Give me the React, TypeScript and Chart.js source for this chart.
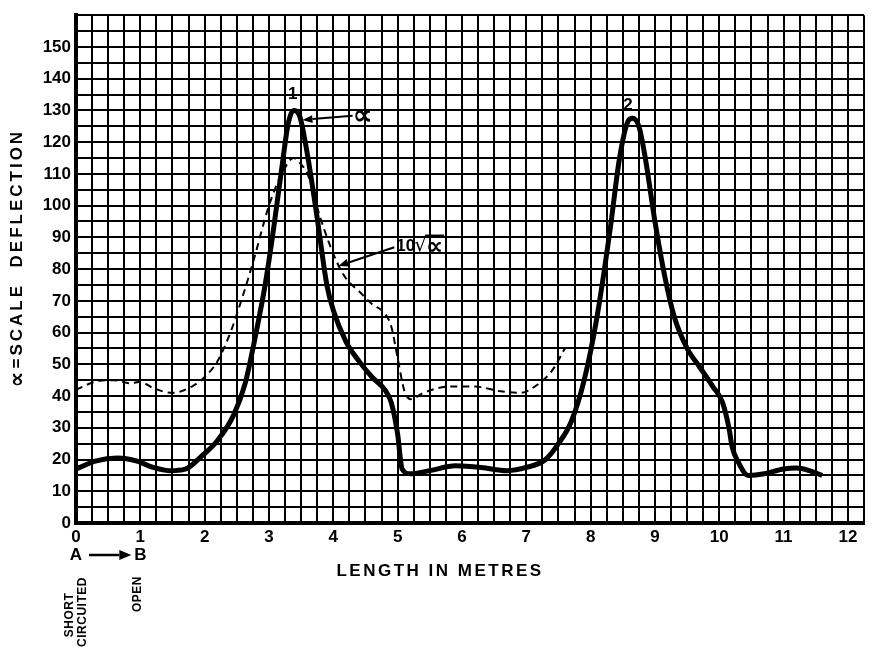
import React, { useEffect, useRef } from "react";
import { Chart, registerables } from "chart.js";

Chart.register(...registerables);

// ∝ (solid, thick) – scale deflection vs length in metres
const SOLID_X = [0, 0.3, 0.65, 0.95, 1.2, 1.45, 1.7, 1.95, 2.2, 2.45, 2.63, 2.8, 2.94, 3.06, 3.2, 3.3, 3.38, 3.48, 3.59, 3.75, 3.9, 4.0, 4.2, 4.4, 4.6, 4.8, 4.9, 5.0, 5.07, 5.2, 5.5, 5.9, 6.3, 6.7, 7.0, 7.3, 7.5, 7.7, 7.9, 8.1, 8.3, 8.45, 8.58, 8.65, 8.75, 8.85, 9.0, 9.15, 9.3, 9.5, 9.7, 9.9, 10.05, 10.15, 10.2, 10.3, 10.45, 10.7, 11.0, 11.2, 11.4, 11.6];
const SOLID_Y = [17, 19.5, 20.5, 19.5, 17.5, 16.5, 17, 21, 26, 34, 44, 60, 75, 91, 112, 126, 130, 128, 117, 96, 75, 67, 57, 51, 46, 42, 38, 28, 17, 15.5, 16.5, 18, 17.5, 16.5, 17.5, 20, 25, 32, 45, 65, 92, 115, 126.5, 127.5, 125, 115, 95, 78, 65, 55, 49, 43, 38, 30, 24, 19, 15, 15.5, 17, 17.3, 16.5, 15];

// 10√∝ (dashed)
const DASH_X = [0, 0.3, 0.6, 0.85, 1.0, 1.2, 1.5, 1.8, 2.0, 2.2, 2.4, 2.6, 2.75, 3.0, 3.2, 3.38, 3.5, 3.6, 3.8, 4.06, 4.2, 4.4, 4.6, 4.8, 4.9, 5.0, 5.1, 5.2, 5.4, 5.8, 6.2, 6.6, 6.9, 7.2, 7.4, 7.6];
const DASH_Y = [42, 44.5, 45, 44, 44.5, 42.5, 41, 43, 46, 51, 60, 72, 82, 100, 110, 115, 113, 110, 96, 82, 77, 73, 69, 66, 62, 52, 42, 39, 41, 43, 43, 41.5, 41, 44, 48, 55];

// axis ticks
const X_MIN = 0;
const X_MAX = 12.25;
const X_STEP = 0.25;
const Y_MIN = 0;
const Y_MAX = 160;
const Y_STEP = 5;
const Y_LABEL_MAX = 150;

const FONT = '"Liberation Sans", Arial, Helvetica, sans-serif';
const PROP_FONT = '"DejaVu Sans", "Liberation Sans", sans-serif';

function arrow(ctx: CanvasRenderingContext2D, x1: number, y1: number, x2: number, y2: number, lw = 2, hl = 10, hw = 4) {
  ctx.save();
  ctx.strokeStyle = "#000";
  ctx.fillStyle = "#000";
  ctx.lineWidth = lw;
  const a = Math.atan2(y2 - y1, x2 - x1);
  const bx = x2 - hl * Math.cos(a);
  const by = y2 - hl * Math.sin(a);
  ctx.beginPath();
  ctx.moveTo(x1, y1);
  ctx.lineTo(bx, by);
  ctx.stroke();
  ctx.beginPath();
  ctx.moveTo(x2, y2);
  ctx.lineTo(bx + hw * Math.sin(a), by - hw * Math.cos(a));
  ctx.lineTo(bx - hw * Math.sin(a), by + hw * Math.cos(a));
  ctx.closePath();
  ctx.fill();
  ctx.restore();
}

const annotationPlugin = {
  id: "annotations",
  afterDraw(chart: any) {
    const ctx: CanvasRenderingContext2D = chart.ctx;
    const xs = chart.scales.x;
    const ys = chart.scales.y;
    const px = (v: number) => xs.getPixelForValue(v);
    const py = (v: number) => ys.getPixelForValue(v);
    ctx.save();
    ctx.fillStyle = "#000";
    ctx.textBaseline = "middle";
    ctx.textAlign = "center";

    // peak labels
    ctx.font = `bold 17px ${FONT}`;
    ctx.fillText("1", px(3.37), py(135));
    ctx.fillText("2", px(8.58), py(131.5));

    // ∝ label with arrow
    ctx.font = `bold 28px ${PROP_FONT}`;
    ctx.textAlign = "left";
    ctx.fillText("∝", px(4.3), py(128));
    arrow(ctx, px(4.3), py(128.3), px(3.52), py(127));

    // 10√∝ label with arrow
    const lx = px(4.98);
    const ly = py(87.5);
    ctx.font = `bold 17px ${FONT}`;
    ctx.fillText("10", lx, ly + 1);
    const w10 = ctx.measureText("10").width;
    ctx.font = `20px ${PROP_FONT}`;
    ctx.fillText("√", lx + w10 - 1, ly);
    const wr = ctx.measureText("√").width;
    ctx.font = `bold 24px ${PROP_FONT}`;
    ctx.fillText("∝", lx + w10 + wr - 2, ly + 2);
    const wa = ctx.measureText("∝").width;
    ctx.save();
    ctx.lineWidth = 1.5;
    ctx.strokeStyle = "#000";
    ctx.beginPath();
    ctx.moveTo(lx + w10 + wr - 3, ly - 10);
    ctx.lineTo(lx + w10 + wr + wa - 1, ly - 10);
    ctx.stroke();
    ctx.restore();
    arrow(ctx, lx - 2, ly + 2, px(4.08), py(81));

    // A -> B
    const yAB = 555;
    ctx.textAlign = "center";
    ctx.font = `bold 17px ${FONT}`;
    ctx.fillText("A", px(0), yAB);
    ctx.fillText("B", px(1), yAB);
    arrow(ctx, px(0) + 13, yAB, px(1) - 9, yAB, 2.5, 12, 5);

    // LENGTH IN METRES
    ctx.font = `bold 17px ${FONT}`;
    (ctx as any).letterSpacing = "2.5px";
    ctx.fillText("LENGTH IN METRES", 440, 571);

    // y-axis title
    ctx.save();
    ctx.translate(17, 258);
    ctx.rotate(-Math.PI / 2);
    ctx.textAlign = "left";
    (ctx as any).letterSpacing = "3px";
    ctx.font = `bold 22px ${PROP_FONT}`;
    const titleRest = "=SCALE  DEFLECTION";
    const wAlpha = ctx.measureText("∝").width;
    ctx.font = `bold 17px ${FONT}`;
    const wRest = ctx.measureText(titleRest).width;
    const start = -(wAlpha + wRest) / 2;
    ctx.font = `bold 22px ${PROP_FONT}`;
    ctx.fillText("∝", start, 1);
    ctx.font = `bold 17px ${FONT}`;
    ctx.fillText(titleRest, start + wAlpha, 0);
    ctx.restore();

    // SHORT CIRCUITED / OPEN
    (ctx as any).letterSpacing = "0.5px";
    ctx.font = `bold 12px ${FONT}`;
    ctx.save();
    ctx.translate(70, 615);
    ctx.rotate(-Math.PI / 2);
    ctx.fillText("SHORT", 0, 0);
    ctx.restore();
    ctx.save();
    ctx.translate(83, 612);
    ctx.rotate(-Math.PI / 2);
    ctx.fillText("CIRCUITED", 0, 0);
    ctx.restore();
    ctx.save();
    ctx.translate(138, 594);
    ctx.rotate(-Math.PI / 2);
    ctx.fillText("OPEN", 0, 0);
    ctx.restore();

    ctx.restore();
  },
};

export default function App() {
  const ref = useRef<HTMLCanvasElement | null>(null);

  useEffect(() => {
    if (!ref.current) return;
    const solid = SOLID_X.map((x, i) => ({ x, y: SOLID_Y[i] }));
    const dashed = DASH_X.map((x, i) => ({ x, y: DASH_Y[i] }));
    const chart = new Chart(ref.current, {
      type: "line",
      data: {
        datasets: [
          {
            label: "∝",
            data: solid,
            borderColor: "#000",
            borderWidth: 5,
            pointRadius: 0,
            cubicInterpolationMode: "monotone",
            fill: false,
          },
          {
            label: "10√∝",
            data: dashed,
            borderColor: "#000",
            borderWidth: 2,
            borderDash: [7, 5],
            pointRadius: 0,
            cubicInterpolationMode: "monotone",
            fill: false,
          },
        ],
      },
      options: {
        animation: false,
        responsive: false,
        maintainAspectRatio: false,
        layout: { padding: { left: 0, right: 15, top: 6, bottom: 0 } },
        plugins: {
          legend: { display: false },
          tooltip: { enabled: false },
        },
        scales: {
          x: {
            type: "linear",
            min: X_MIN,
            max: X_MAX,
            afterFit: (s: any) => {
              s.height = 133;
            },
            ticks: {
              stepSize: X_STEP,
              autoSkip: false,
              maxRotation: 0,
              padding: 4,
              color: "#000",
              font: { family: FONT, size: 17, weight: "bold" },
              callback: (v: any) => (Math.abs(v - Math.round(v)) < 1e-6 ? String(Math.round(v)) : ""),
            },
            grid: { color: "#000", lineWidth: 2, drawTicks: false, tickLength: 0 },
            border: { color: "#000", width: 4 },
          },
          y: {
            type: "linear",
            min: Y_MIN,
            max: Y_MAX,
            afterFit: (s: any) => {
              s.width = 76;
            },
            ticks: {
              stepSize: Y_STEP,
              autoSkip: false,
              padding: 5,
              color: "#000",
              font: { family: FONT, size: 17, weight: "bold" },
              callback: (v: any) => (v % 10 === 0 && v <= Y_LABEL_MAX ? String(v) : ""),
            },
            grid: { color: "#000", lineWidth: 2, drawTicks: false, tickLength: 0 },
            border: { color: "#000", width: 4 },
          },
        },
      },
      plugins: [annotationPlugin],
    } as any);
    return () => chart.destroy();
  }, []);

  return (
    <div style={{ position: "fixed", left: 0, top: 0, width: 879, height: 656, background: "#fff" }}>
      <canvas ref={ref} width={879} height={656} style={{ width: 879, height: 656, display: "block" }} />
    </div>
  );
}
